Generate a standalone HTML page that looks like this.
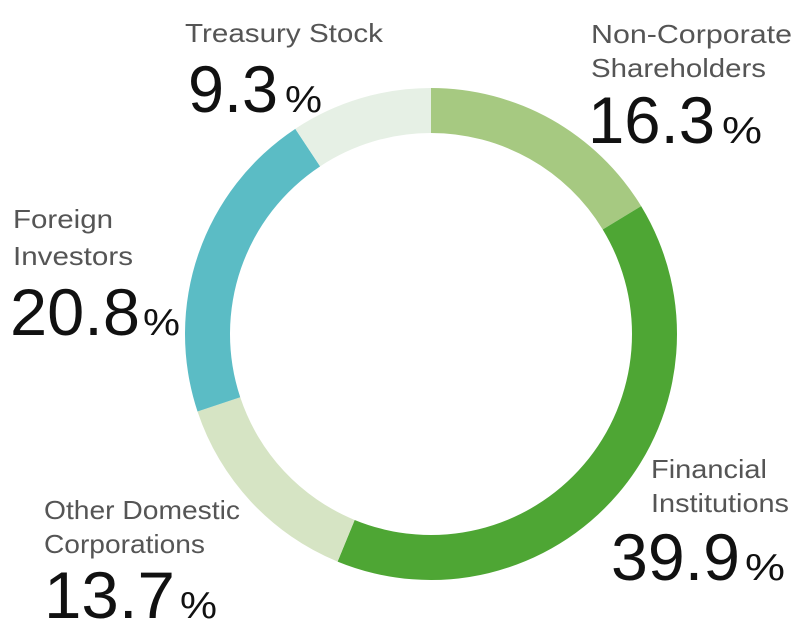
<!DOCTYPE html>
<html><head><meta charset="utf-8"><style>
html,body{margin:0;padding:0;background:#fff;}
svg{display:block;font-family:"Liberation Sans",sans-serif;}
.lbl{fill:#555;font-size:26px;}
.num{fill:#111;font-size:66px;}
.pct{fill:#111;font-size:38px;}
</style></head><body>
<svg id="chart" width="808" height="634" viewBox="0 0 808 634">
<g id="slices"></g>
<g>
<text class="lbl" x="185" y="42" textLength="198" lengthAdjust="spacingAndGlyphs">Treasury Stock</text>
<text class="num" x="188" y="112" textLength="90" lengthAdjust="spacingAndGlyphs">9.3</text>
<text class="pct" x="285" y="112" textLength="37" lengthAdjust="spacingAndGlyphs">%</text>
</g>
<g>
<text class="lbl" x="591" y="43" textLength="201" lengthAdjust="spacingAndGlyphs">Non-Corporate</text>
<text class="lbl" x="591" y="77" textLength="175" lengthAdjust="spacingAndGlyphs">Shareholders</text>
<text class="num" x="588" y="143" textLength="127" lengthAdjust="spacingAndGlyphs">16.3</text>
<text class="pct" x="722" y="143" textLength="40" lengthAdjust="spacingAndGlyphs">%</text>
</g>
<g>
<text class="lbl" x="13" y="228" textLength="100" lengthAdjust="spacingAndGlyphs">Foreign</text>
<text class="lbl" x="13" y="265" textLength="120" lengthAdjust="spacingAndGlyphs">Investors</text>
<text class="num" x="10" y="335" textLength="130" lengthAdjust="spacingAndGlyphs">20.8</text>
<text class="pct" x="143" y="335" textLength="37" lengthAdjust="spacingAndGlyphs">%</text>
</g>
<g>
<text class="lbl" x="651" y="478" textLength="116" lengthAdjust="spacingAndGlyphs">Financial</text>
<text class="lbl" x="651" y="512" textLength="138" lengthAdjust="spacingAndGlyphs">Institutions</text>
<text class="num" x="611" y="580" textLength="129" lengthAdjust="spacingAndGlyphs">39.9</text>
<text class="pct" x="745" y="580" textLength="40" lengthAdjust="spacingAndGlyphs">%</text>
</g>
<g>
<text class="lbl" x="44" y="519" textLength="196" lengthAdjust="spacingAndGlyphs">Other Domestic</text>
<text class="lbl" x="44" y="553" textLength="161" lengthAdjust="spacingAndGlyphs">Corporations</text>
<text class="num" x="44" y="618" textLength="131" lengthAdjust="spacingAndGlyphs">13.7</text>
<text class="pct" x="180" y="618" textLength="37" lengthAdjust="spacingAndGlyphs">%</text>
</g>
</svg>
<script>
const categories = ["Non-Corporate Shareholders","Financial Institutions","Other Domestic Corporations","Foreign Investors","Treasury Stock"];
const values = [16.3, 39.9, 13.7, 20.8, 9.3];
const colors = ["#a6c981","#4ea634","#d6e4c4","#5bbcc5","#e6f0e5"];
const cx = 431, cy = 334, rOut = 246, rIn = 201;
const total = values.reduce((a,b)=>a+b,0);
function angle(v){ return v/total*2*Math.PI; }
function pt(r,a){ return [cx + r*Math.sin(a), cy - r*Math.cos(a)]; }
const g = document.getElementById('slices');
let acc = 0;
values.forEach((v,i)=>{
  const a0 = angle(acc), a1 = angle(acc+v); acc += v;
  const large = (a1-a0) > Math.PI ? 1 : 0;
  const p0=pt(rOut,a0), p1=pt(rOut,a1), p2=pt(rIn,a1), p3=pt(rIn,a0);
  const d = `M${p0[0]},${p0[1]} A${rOut},${rOut} 0 ${large} 1 ${p1[0]},${p1[1]} L${p2[0]},${p2[1]} A${rIn},${rIn} 0 ${large} 0 ${p3[0]},${p3[1]} Z`;
  const path = document.createElementNS('http://www.w3.org/2000/svg','path');
  path.setAttribute('d', d);
  path.setAttribute('fill', colors[i]);
  
  
  g.appendChild(path);
});
</script>
</body></html>
